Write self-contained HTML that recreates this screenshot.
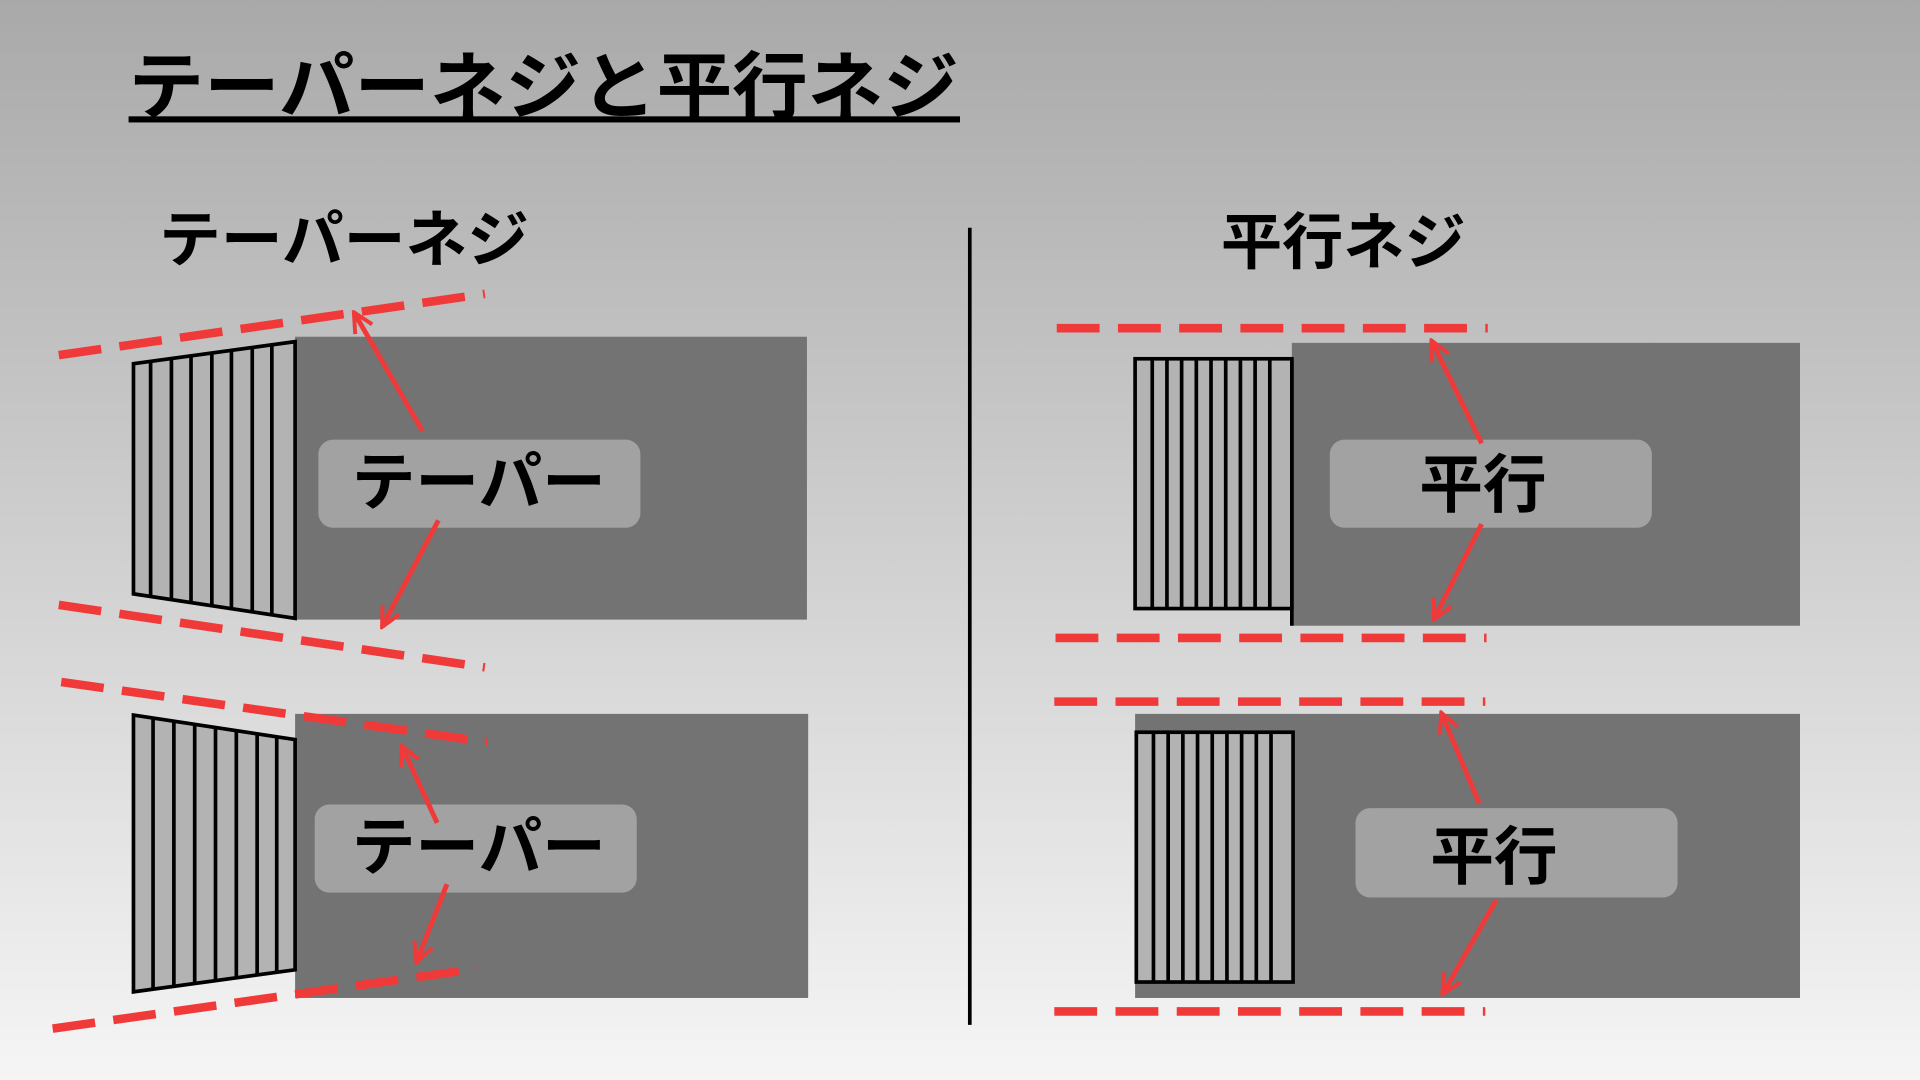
<!DOCTYPE html>
<html><head><meta charset="utf-8"><style>
html,body{margin:0;padding:0;width:1920px;height:1080px;overflow:hidden}
svg{display:block}
text{font-family:"Liberation Sans","Noto Sans CJK JP",sans-serif;font-weight:bold;fill:#000}
</style></head><body>
<svg width="1920" height="1080" viewBox="0 0 1568 882" preserveAspectRatio="none" xmlns="http://www.w3.org/2000/svg">
<defs>
<linearGradient id="bg" x1="0" y1="0" x2="0" y2="1">
<stop offset="0" stop-color="#a9a9a9"/><stop offset="1" stop-color="#f5f5f5"/>
</linearGradient>
<marker id="ah" viewBox="0 0 10 10" refX="9" refY="5" markerWidth="5" markerHeight="5" orient="auto" markerUnits="strokeWidth">
<polyline points="1,1 9,5 1,9" fill="none" stroke="#f03a3a" stroke-width="1.6"/>
</marker>
</defs>
<rect width="1568" height="882" fill="url(#bg)"/>
<text x="105" y="92" font-size="60" textLength="678" lengthAdjust="spacingAndGlyphs">テーパーネジと平行ネジ</text>
<rect x="105" y="95" width="679" height="5" fill="#000"/>
<text x="130" y="213" font-size="50" textLength="302" lengthAdjust="spacingAndGlyphs">テーパーネジ</text>
<text x="997" y="215" font-size="50" textLength="200" lengthAdjust="spacingAndGlyphs">平行ネジ</text>
<line x1="792" y1="186" x2="792" y2="837" stroke="#000" stroke-width="3"/>

<g stroke="#000" stroke-width="3">
<rect x="241" y="275" width="418" height="231" fill="#737373" stroke="none"/>
<polygon points="109,297 241,279 241,505 109,485" fill="#b3b3b3"/>
<path d="M123,295V487M140,293V490M156,291V492M173,288V495M189,286V497M206,284V500M222,282V502"/>
<rect x="241" y="583" width="419" height="232" fill="#737373" stroke="none"/>
<polygon points="109,584 241,604 241,792 109,810" fill="#b3b3b3"/>
<path d="M125,586V808M142,589V806M159,591V803M176,594V801M193,596V798M210,599V796M226,601V794"/>
<rect x="1055" y="280" width="415" height="231" fill="#737373" stroke="none"/>
<rect x="927" y="293" width="128" height="204" fill="#b3b3b3"/>
<path d="M941,293V497M953,293V497M965,293V497M977,293V497M989,293V497M1001,293V497M1013,293V497M1025,293V497M1037,293V497"/>
<line x1="1055" y1="293" x2="1055" y2="511"/>
<rect x="927" y="583" width="543" height="232" fill="#737373" stroke="none"/>
<rect x="928" y="598" width="128" height="204" fill="#b3b3b3"/>
<path d="M942,598V802M954,598V802M966,598V802M978,598V802M990,598V802M1002,598V802M1014,598V802M1026,598V802M1038,598V802"/>
</g>

<g stroke="#f03a3a" stroke-width="7" stroke-dasharray="35,15" fill="none">
<line x1="48" y1="290" x2="396" y2="240"/>
<line x1="48" y1="494" x2="396" y2="545"/>
<line x1="50" y1="557" x2="398" y2="606"/>
<line x1="43" y1="840" x2="390" y2="791"/>
<line x1="863" y1="268" x2="1215" y2="268"/>
<line x1="862" y1="521" x2="1214" y2="521"/>
<line x1="861" y1="573" x2="1213" y2="573"/>
<line x1="861" y1="826" x2="1213" y2="826"/>
</g>

<g fill="#a2a2a2">
<rect x="260" y="359" width="263" height="72" rx="12"/>
<rect x="257" y="657" width="263" height="72" rx="12"/>
<rect x="1086" y="359" width="263" height="72" rx="12"/>
<rect x="1107" y="660" width="263" height="73" rx="12"/>
</g>
<text x="391" y="412" font-size="52" text-anchor="middle">テーパー</text>
<text x="391" y="710" font-size="52" text-anchor="middle">テーパー</text>
<text x="1211" y="414" font-size="52" text-anchor="middle">平行</text>
<text x="1220" y="718" font-size="52" text-anchor="middle">平行</text>

<g stroke="#f03a3a" stroke-width="4" fill="none" marker-end="url(#ah)">
<line x1="345" y1="352" x2="289" y2="255"/>
<line x1="358" y1="425" x2="312" y2="512"/>
<line x1="357" y1="672" x2="328" y2="609"/>
<line x1="365" y1="722" x2="340" y2="786"/>
<line x1="1210" y1="362" x2="1169" y2="278"/>
<line x1="1210" y1="428" x2="1171" y2="506"/>
<line x1="1208" y1="656" x2="1177" y2="582"/>
<line x1="1222" y1="735" x2="1178" y2="812"/>
</g>
</svg>
</body></html>
